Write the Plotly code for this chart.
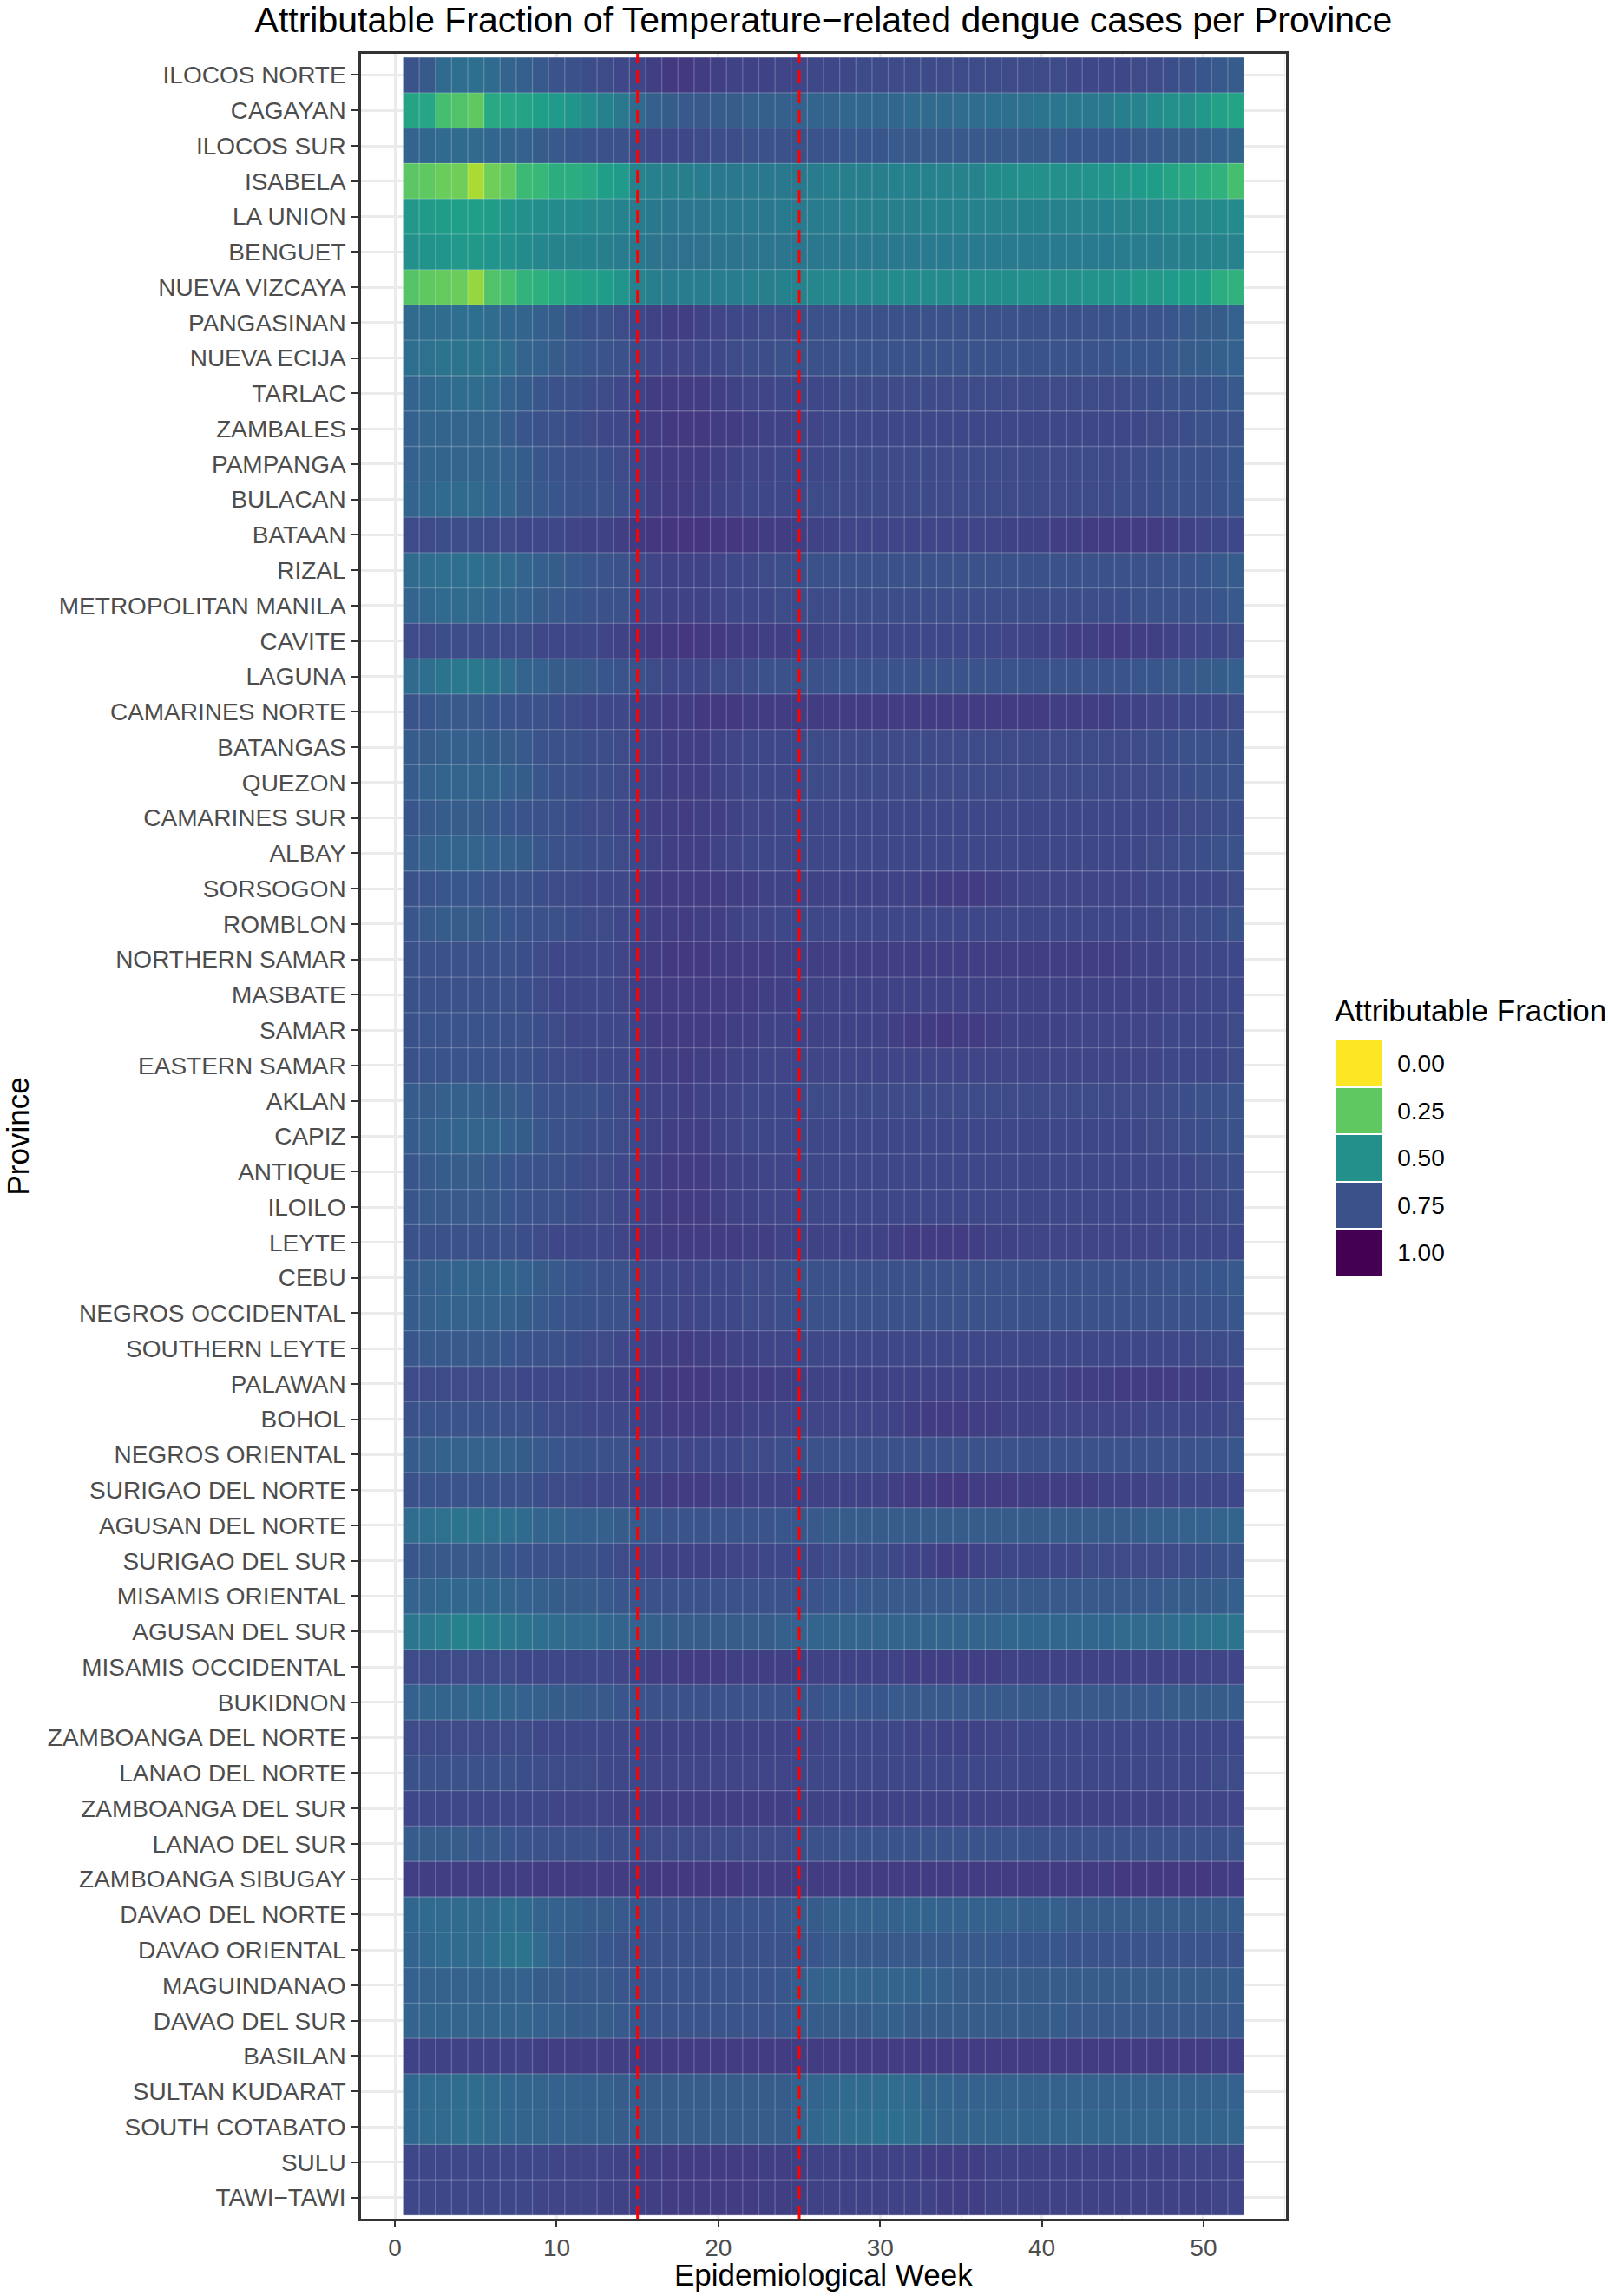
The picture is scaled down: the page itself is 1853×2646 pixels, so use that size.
import plotly.graph_objects as go

provinces = [
    "ILOCOS NORTE", "CAGAYAN", "ILOCOS SUR", "ISABELA", "LA UNION", "BENGUET",
    "NUEVA VIZCAYA", "PANGASINAN", "NUEVA ECIJA", "TARLAC", "ZAMBALES", "PAMPANGA",
    "BULACAN", "BATAAN", "RIZAL", "METROPOLITAN MANILA", "CAVITE", "LAGUNA",
    "CAMARINES NORTE", "BATANGAS", "QUEZON", "CAMARINES SUR", "ALBAY", "SORSOGON",
    "ROMBLON", "NORTHERN SAMAR", "MASBATE", "SAMAR", "EASTERN SAMAR", "AKLAN",
    "CAPIZ", "ANTIQUE", "ILOILO", "LEYTE", "CEBU", "NEGROS OCCIDENTAL",
    "SOUTHERN LEYTE", "PALAWAN", "BOHOL", "NEGROS ORIENTAL", "SURIGAO DEL NORTE",
    "AGUSAN DEL NORTE", "SURIGAO DEL SUR", "MISAMIS ORIENTAL", "AGUSAN DEL SUR",
    "MISAMIS OCCIDENTAL", "BUKIDNON", "ZAMBOANGA DEL NORTE", "LANAO DEL NORTE",
    "ZAMBOANGA DEL SUR", "LANAO DEL SUR", "ZAMBOANGA SIBUGAY", "DAVAO DEL NORTE",
    "DAVAO ORIENTAL", "MAGUINDANAO", "DAVAO DEL SUR", "BASILAN", "SULTAN KUDARAT",
    "SOUTH COTABATO", "SULU", "TAWI−TAWI",
]
weeks = list(range(1, 53))

# attributable fraction in percent, one row per province (weeks 1..52)
af_pct = [
    [74,72,66,64,64,66,68,70,72,74,75,76,77, 78,79,81,83,83,82,81,80,80,80,79,79,78, 78,78,77,77,77,77,77,77,77,77,77,77,77, 77,77,78,78,78,78,77,77,76,75,73,72,71],
    [42,41,30,28,25,40,41,42,44,46,48,52,56, 60,66,70,71,72,72,71,71,70,70,70,69,68, 68,67,67,67,67,66,66,66,65,65,64,64,63, 62,61,60,60,59,57,55,52,50,50,47,43,42],
    [68,67,66,66,66,67,68,69,71,72,73,74,75, 75,77,78,78,78,77,76,76,75,75,75,75,74, 74,73,73,73,72,72,72,72,72,72,72,72,72, 72,72,73,73,73,73,72,72,71,71,70,69,68],
    [26,25,23,22,13,22,25,32,33,38,38,40,44, 46,55,56,57,57,58,60,60,60,60,60,60,58, 57,57,57,57,56,56,56,55,55,55,52,51,50, 50,50,50,49,48,47,46,45,42,40,38,36,30],
    [47,46,45,44,44,45,48,50,51,52,52,53,54, 55,58,60,61,61,61,60,60,60,60,59,59,58, 58,57,57,57,57,57,56,56,56,56,56,56,56, 56,56,56,56,56,55,55,55,54,54,53,52,52],
    [50,49,48,47,47,48,50,52,54,55,55,56,57, 58,60,62,63,63,63,62,62,62,61,61,61,60, 60,60,60,60,60,60,59,59,59,59,59,59,59, 59,59,59,59,59,58,58,58,57,57,56,55,55],
    [27,25,24,23,16,28,30,35,37,40,42,43,45, 48,55,57,58,58,58,58,58,57,57,56,55,54, 53,53,53,53,52,52,52,52,52,51,51,51,50, 50,50,50,49,49,48,47,47,46,45,44,38,36],
    [66,65,65,64,64,65,67,68,70,71,73,75,75, 77,78,80,81,81,80,79,78,78,77,77,76,75, 75,75,75,75,75,75,75,75,75,75,75,75,75, 75,75,75,75,74,74,74,74,73,72,71,71,69],
    [64,63,62,62,62,63,65,68,69,71,72,73,74, 75,77,78,79,79,78,78,77,76,76,75,75,75, 75,74,74,74,74,74,74,74,74,74,74,74,74, 74,74,74,74,74,73,73,73,72,71,71,70,69],
    [68,67,66,65,65,66,69,71,73,75,75,76,77, 78,80,82,82,82,82,81,80,79,79,78,78,78, 78,77,77,77,77,77,77,77,77,77,77,77,77, 77,77,77,77,77,77,76,76,75,75,74,73,72],
    [69,68,68,68,68,68,71,73,75,75,76,77,78, 78,81,82,83,83,83,82,82,81,80,80,79,79, 78,78,78,78,78,78,78,78,78,78,78,78,78, 78,78,78,78,78,78,78,77,77,76,75,75,74],
    [69,68,68,68,68,68,69,71,73,74,75,75,76, 77,79,82,82,82,82,81,80,79,79,78,78,78, 78,77,77,77,77,77,77,77,77,77,77,77,77, 77,77,77,77,77,77,76,76,75,75,75,74,73],
    [68,67,66,66,66,67,68,71,72,73,74,75,75, 76,78,81,82,82,81,80,79,78,78,78,78,77, 77,77,77,77,77,77,77,77,77,77,77,77,77, 77,77,77,77,77,76,76,76,75,75,75,74,73],
    [77,77,76,76,76,77,77,78,78,78,79,80,80, 81,83,84,85,85,85,84,84,83,82,82,81,80, 80,79,79,79,79,79,79,79,79,79,79,80,80, 80,81,81,82,82,82,82,82,81,80,79,78,78],
    [66,65,64,64,64,65,66,68,70,71,72,73,74, 75,77,79,80,80,80,79,78,78,77,76,76,75, 75,75,75,75,75,75,75,75,75,75,75,75,75, 75,75,75,75,75,75,75,75,74,74,73,72,71],
    [68,67,66,66,66,67,68,69,71,72,73,74,75, 75,78,79,80,80,80,79,78,78,78,77,77,77, 77,76,76,76,76,76,76,76,76,76,76,76,76, 76,76,76,76,76,76,75,75,75,75,74,73,72],
    [77,77,76,76,76,76,77,77,78,78,78,78,79, 80,82,83,83,84,83,83,82,82,81,81,80,80, 79,79,78,78,78,78,78,78,78,78,78,79,79, 80,80,81,81,82,82,81,81,80,79,78,78,77],
    [66,64,62,60,60,62,65,68,69,71,71,72,73, 74,75,77,78,78,78,77,77,76,75,75,75,75, 74,74,74,74,74,74,74,74,74,74,74,74,74, 74,74,74,74,74,74,73,73,72,72,71,71,70],
    [74,73,72,72,72,73,74,75,75,76,77,78,78, 78,80,81,82,82,83,83,83,82,82,82,82,82, 82,82,82,82,82,82,82,82,82,82,82,82,82, 82,81,81,81,81,80,80,79,79,78,78,78,77],
    [71,71,70,70,70,71,71,72,74,75,75,76,76, 77,78,80,81,81,81,80,79,78,78,78,78,77, 77,77,77,77,77,77,77,77,77,77,77,77,77, 77,77,77,77,77,77,77,76,76,75,75,75,75],
    [71,69,68,68,68,68,70,71,73,75,75,76,76, 77,78,80,81,81,81,80,79,78,78,78,78,77, 77,77,77,77,77,77,77,77,77,77,77,77,77, 77,77,77,77,77,77,77,77,76,76,75,75,74],
    [73,72,71,71,71,72,73,74,75,75,76,77,77, 78,79,81,81,82,81,81,80,79,79,78,78,78, 78,78,78,78,78,78,78,78,78,78,78,78,78, 78,78,78,78,78,78,78,78,78,77,77,76,76],
    [71,69,68,68,68,69,70,71,73,75,75,76,76, 77,78,80,81,81,81,80,79,78,78,78,78,78, 78,78,78,78,78,78,78,78,78,78,78,78,78, 78,78,78,78,78,78,78,77,77,76,76,75,75],
    [75,74,73,73,73,74,75,75,76,77,77,78,78, 78,80,82,82,82,82,82,81,81,80,80,80,80, 80,80,80,80,80,80,81,82,82,82,81,80,79, 79,79,79,79,79,79,79,78,78,78,78,78,77],
    [73,72,71,71,71,72,73,74,75,75,76,77,77, 78,79,81,81,82,81,81,80,79,79,78,78,78, 78,78,78,78,78,78,78,78,78,78,78,78,78, 78,78,78,78,78,78,78,78,77,77,76,76,75],
    [75,75,75,75,75,75,75,76,77,78,78,78,78, 79,81,82,83,83,83,82,82,82,82,81,81,81, 81,81,81,81,81,81,81,81,81,81,81,81,81, 81,81,81,81,81,81,80,80,79,79,78,78,78],
    [75,75,75,75,75,75,75,76,77,78,78,78,78, 79,81,82,82,82,82,82,82,82,81,81,80,80, 80,80,80,80,80,80,80,80,80,80,80,80,80, 80,80,80,80,80,80,80,80,79,79,78,78,78],
    [75,74,74,74,74,74,75,75,76,77,78,78,78, 78,80,82,82,82,82,82,81,81,80,80,80,80, 80,80,80,80,81,82,82,83,82,82,81,80,80, 80,80,79,79,79,79,79,79,78,78,78,78,77],
    [75,74,74,74,74,74,75,75,76,77,77,78,78, 78,79,81,81,82,81,81,80,80,79,79,79,79, 79,79,79,79,79,79,79,79,79,79,79,79,79, 79,79,79,79,79,79,79,79,78,78,78,78,77],
    [71,71,70,70,70,71,71,72,74,75,75,75,76, 77,78,80,80,81,80,80,79,78,78,78,78,77, 77,77,77,77,77,77,77,77,77,77,77,77,77, 77,77,77,77,77,77,77,77,76,76,75,75,74],
    [71,70,69,68,68,68,70,71,73,75,75,76,76, 77,78,80,81,81,81,80,79,78,78,78,78,78, 78,78,78,78,78,78,78,78,78,78,78,78,78, 78,78,78,78,78,78,78,77,77,76,76,75,75],
    [73,72,71,71,71,72,73,74,75,75,76,77,77, 78,79,81,82,82,82,81,80,80,79,79,78,78, 78,78,78,78,78,78,78,78,78,78,78,78,78, 78,78,78,78,78,78,78,78,78,78,77,76,76],
    [73,72,72,72,72,72,73,74,75,75,76,77,77, 78,79,81,82,82,82,81,80,80,79,79,78,78, 78,78,78,78,78,78,78,78,78,78,78,78,78, 78,78,78,78,78,78,78,78,78,78,77,77,76],
    [75,75,75,75,75,75,75,76,77,78,78,78,78, 79,81,82,82,82,82,82,82,81,81,80,80,80, 80,80,80,80,81,82,82,82,82,81,80,80,79, 79,79,79,79,79,79,79,79,78,78,78,78,78],
    [71,70,69,68,68,68,68,69,71,72,73,74,75, 75,77,78,78,79,78,78,78,77,77,76,75,75, 75,75,75,75,75,75,75,75,75,75,75,75,75, 75,75,75,75,75,75,75,75,74,74,73,73,72],
    [71,70,69,69,69,69,70,71,72,73,74,75,75, 75,77,78,78,79,78,78,78,77,77,76,76,75, 75,75,75,75,75,75,75,75,75,75,75,75,75, 75,75,75,75,75,75,75,75,75,75,74,74,73],
    [73,72,72,72,72,72,73,74,75,75,76,77,77, 78,79,81,81,82,81,81,80,80,79,79,78,78, 78,78,78,78,78,78,78,78,78,78,78,78,78, 78,78,78,78,78,78,78,78,78,78,77,77,76],
    [77,77,77,77,77,77,77,78,78,78,78,79,79, 80,82,82,83,83,83,82,82,82,82,81,81,80, 80,80,80,80,80,80,80,80,80,80,80,80,80, 80,80,81,81,81,82,82,82,82,81,81,80,79],
    [75,74,74,74,74,74,75,75,76,77,77,78,78, 78,80,81,82,82,82,81,81,80,80,79,79,79, 79,79,79,79,80,81,82,82,82,81,81,80,80, 80,79,79,79,79,79,79,78,78,78,78,78,77],
    [71,70,69,69,69,69,70,71,72,73,74,75,75, 75,77,78,78,79,78,78,78,77,77,76,76,75, 75,75,75,75,75,75,75,75,75,75,75,75,75, 75,75,75,75,75,75,75,75,75,75,74,74,73],
    [75,74,74,74,74,74,75,75,76,77,77,78,78, 78,80,81,82,82,82,81,81,80,80,80,80,80, 80,80,80,80,81,82,82,83,83,82,82,82,81, 81,81,81,81,80,80,80,79,79,78,78,78,78],
    [65,64,63,62,62,63,64,66,68,68,69,70,70, 71,72,73,74,74,74,74,74,74,74,73,73,72, 71,71,71,71,71,71,71,71,71,71,71,71,71, 71,71,71,71,71,71,71,70,70,69,69,68,68],
    [73,72,72,72,72,72,73,74,75,75,75,75,76, 77,78,79,80,80,80,80,79,79,78,78,78,78, 77,77,77,77,78,79,80,81,81,80,79,78,78, 78,78,78,77,77,77,77,77,77,76,76,75,75],
    [68,68,67,67,67,67,68,69,70,71,71,71,72, 73,74,75,75,75,75,75,75,75,75,75,75,74, 73,73,72,72,72,72,72,72,72,72,72,72,72, 72,72,72,72,72,72,72,72,71,71,71,71,70],
    [61,60,58,56,56,58,60,62,64,65,66,66,67, 68,69,70,71,71,71,71,71,71,71,70,69,68, 68,68,68,68,68,68,68,68,68,68,68,67,67, 67,67,67,67,67,66,66,66,65,64,63,62,62],
    [77,77,77,77,77,77,77,78,78,78,78,78,78, 79,80,81,81,82,82,82,81,81,81,81,81,80, 80,80,80,80,80,81,81,81,81,81,81,80,80, 80,80,80,80,80,80,80,80,80,80,79,79,79],
    [69,68,68,68,67,67,68,69,70,71,71,72,72, 73,74,75,75,75,75,75,75,75,75,75,74,74, 73,73,73,73,72,72,72,72,72,72,72,72,72, 72,72,72,72,72,72,72,72,71,71,71,71,71],
    [77,77,77,77,77,77,77,77,78,78,78,78,78, 78,79,80,80,80,80,80,80,80,80,80,79,79, 78,78,78,78,78,79,79,80,80,80,79,79,78, 78,78,78,78,78,78,78,78,78,78,78,78,78],
    [75,75,75,75,75,75,75,76,76,77,77,77,78, 78,78,79,79,79,79,79,79,79,79,79,79,78, 78,78,78,78,78,78,78,78,78,78,78,78,78, 78,78,78,78,78,78,78,78,78,78,78,77,77],
    [78,78,78,78,78,78,78,78,78,79,79,79,79, 80,80,81,81,81,81,81,81,81,81,81,80,80, 80,80,80,80,80,80,80,80,80,80,80,80,80, 80,80,80,80,80,80,80,80,80,79,79,79,79],
    [71,71,71,71,72,72,73,74,75,75,75,75,76, 76,77,77,77,77,77,77,77,77,77,77,76,75, 75,74,74,74,74,74,74,74,74,74,74,74,74, 75,75,75,75,75,75,75,75,75,75,75,75,75],
    [81,81,81,81,81,81,81,81,82,82,82,82,82, 82,82,83,83,83,83,83,83,82,82,82,82,82, 82,82,82,82,82,82,82,82,82,82,82,82,82, 82,82,82,82,82,83,83,83,83,83,83,82,82],
    [67,66,66,66,66,66,64,66,68,69,70,71,71, 72,73,74,75,75,75,75,74,74,74,73,72,71, 70,69,69,69,69,68,68,69,69,69,69,69,70, 70,70,71,71,71,71,71,71,71,71,71,71,71],
    [68,67,66,66,66,64,62,62,66,69,71,72,73, 74,75,75,75,75,75,75,75,75,75,75,74,73, 72,72,72,72,72,72,72,72,72,72,72,73,73, 73,73,74,74,74,74,74,74,74,74,74,74,74],
    [69,69,69,69,69,69,69,69,71,71,72,72,72, 73,74,74,74,74,74,74,74,74,74,73,71,69, 68,68,68,68,68,68,69,70,71,71,71,71,71, 71,71,71,71,71,71,71,71,71,71,71,71,71],
    [68,68,68,68,68,68,68,68,69,70,71,71,71, 72,73,74,74,74,74,74,74,74,74,73,72,71, 71,71,71,70,70,71,71,71,71,71,71,71,71, 71,71,72,72,72,72,72,72,72,72,72,72,72],
    [80,80,80,80,80,80,80,80,81,81,81,81,81, 81,82,82,82,82,82,82,82,82,82,82,82,82, 82,82,82,82,82,82,82,82,82,82,82,82,82, 82,82,82,82,82,82,82,82,82,82,82,81,81],
    [67,66,66,65,65,66,67,68,68,69,69,70,70, 71,71,71,71,71,71,71,71,71,71,71,69,68, 67,66,66,65,65,66,68,68,69,69,69,69,69, 69,69,69,69,69,69,69,69,69,69,69,69,69],
    [67,66,66,65,65,66,67,68,68,69,69,70,70, 71,71,71,71,71,71,71,71,71,71,71,69,67, 66,65,65,64,64,65,67,68,68,68,68,68,68, 68,68,68,68,68,68,68,68,68,68,68,68,68],
    [78,78,78,78,78,78,78,78,78,79,79,79,79, 80,81,81,82,82,82,82,82,82,81,81,81,80, 80,80,80,80,80,80,81,81,81,81,80,80,80, 80,80,80,80,80,80,80,80,80,79,79,79,79],
    [78,78,78,78,78,78,78,78,79,79,79,79,80, 80,81,81,82,82,82,82,82,82,81,81,81,80, 80,80,80,80,80,80,80,81,81,81,80,80,80, 80,80,80,80,80,80,80,80,80,80,80,79,79],
]
assert len(af_pct) == len(provinces)
assert all(len(r) == len(weeks) for r in af_pct)

season_weeks = [15, 25]          # dashed red reference lines
legend_levels = [1.0, 0.75, 0.5, 0.25, 0.0]
legend_labels = ["1.00", "0.75", "0.50", "0.25", "0.00"]

af = [[v / 100 for v in row] for row in af_pct]
row_idx = list(range(len(provinces)))

FONT = "Liberation Sans, Arial, sans-serif"

fig = go.Figure()

fig.add_trace(go.Heatmap(
    x=weeks, y=row_idx, z=af,
    colorscale="Viridis_r", zmin=0, zmax=1, showscale=False,
    hovertemplate="%{text}<br>week %{x}: %{z:.2f}<extra></extra>",
    text=[[p] * len(weeks) for p in provinces],
))

# faint white tile borders
bx, by = [], []
x_lo, x_hi = weeks[0] - 0.5, weeks[-1] + 0.5
y_lo, y_hi = -0.5, len(provinces) - 0.5
for k in range(len(weeks) + 1):
    bx += [x_lo + k, x_lo + k, None]
    by += [y_lo, y_hi, None]
for i in range(len(provinces) + 1):
    bx += [x_lo, x_hi, None]
    by += [y_lo + i, y_lo + i, None]
fig.add_trace(go.Scatter(
    x=bx, y=by, mode="lines", hoverinfo="skip", showlegend=False,
    line=dict(color="rgba(255,255,255,0.22)", width=1.3),
))

for wk in season_weeks:
    fig.add_vline(x=wk, line=dict(color="#ff0000", width=3, dash="15px,8px"))

# legend keys as a small heatmap
fig.add_trace(go.Heatmap(
    x=[0], y=list(range(len(legend_levels))),
    z=[[v] for v in legend_levels],
    colorscale="Viridis_r", zmin=0, zmax=1, showscale=False,
    ygap=2, xaxis="x2", yaxis="y2", hoverinfo="skip",
))

axis_common = dict(
    showline=True, mirror=True, linecolor="#333333", linewidth=2.5,
    ticks="outside", tickwidth=2, tickcolor="#333333",
    tickfont=dict(family=FONT, size=28, color="#4d4d4d"),
    showgrid=True, gridcolor="#ebebeb", gridwidth=2.5, zeroline=False,
)

fig.update_layout(
    width=1853, height=2646,
    margin=dict(l=416, r=10, t=62, b=89),
    paper_bgcolor="white", plot_bgcolor="white",
    font=dict(family=FONT, color="black"),
    showlegend=False,
    title=dict(
        text="Attributable Fraction of Temperature−related dengue cases per Province",
        font=dict(family=FONT, size=41, color="black"),
        xref="paper", x=0.3735, xanchor="center",
        yref="container", y=1 - 23 / 2646, yanchor="middle",
    ),
    xaxis=dict(
        domain=[0, 0.747], range=[-2.1, 55.1], ticklen=7,
        tickvals=[0, 10, 20, 30, 40, 50],
        minor=dict(tickvals=[5, 15, 25, 35, 45, 55], showgrid=True,
                   gridcolor="#ebebeb", gridwidth=1.2, ticks=""),
        **axis_common,
    ),
    yaxis=dict(
        range=[len(provinces) - 0.4, -0.6], ticklen=9,
        tickvals=row_idx, ticktext=provinces, ticklabelstandoff=0,
        **axis_common,
    ),
    xaxis2=dict(domain=[0.787, 0.825], range=[-0.5, 0.5], anchor="y2",
                visible=False, fixedrange=True),
    yaxis2=dict(domain=[0.4353, 0.5447], range=[-0.5, len(legend_levels) - 0.5],
                anchor="x2", side="right", tickvals=list(range(len(legend_levels))),
                ticktext=legend_labels, ticks="", showgrid=False, zeroline=False,
                showline=False, ticklabelstandoff=16,
                tickfont=dict(family=FONT, size=28, color="black")),
    annotations=[
        dict(text="Epidemiological Week", xref="paper", yref="paper",
             x=0.3735, y=-0.0259, xanchor="center", yanchor="middle",
             showarrow=False, font=dict(family=FONT, size=35, color="black")),
        dict(text="Province", xref="paper", yref="paper",
             x=-0.2775, y=0.5, xanchor="center", yanchor="middle", textangle=-90,
             showarrow=False, font=dict(family=FONT, size=35, color="black")),
        dict(text="Attributable Fraction", xref="paper", yref="paper",
             x=0.7849, y=0.5495, xanchor="left", yanchor="bottom",
             showarrow=False, font=dict(family=FONT, size=35, color="black")),
    ],
)

fig.write_html("out.html", config={"displayModeBar": False},
               post_script="document.body.style.margin='0';")
